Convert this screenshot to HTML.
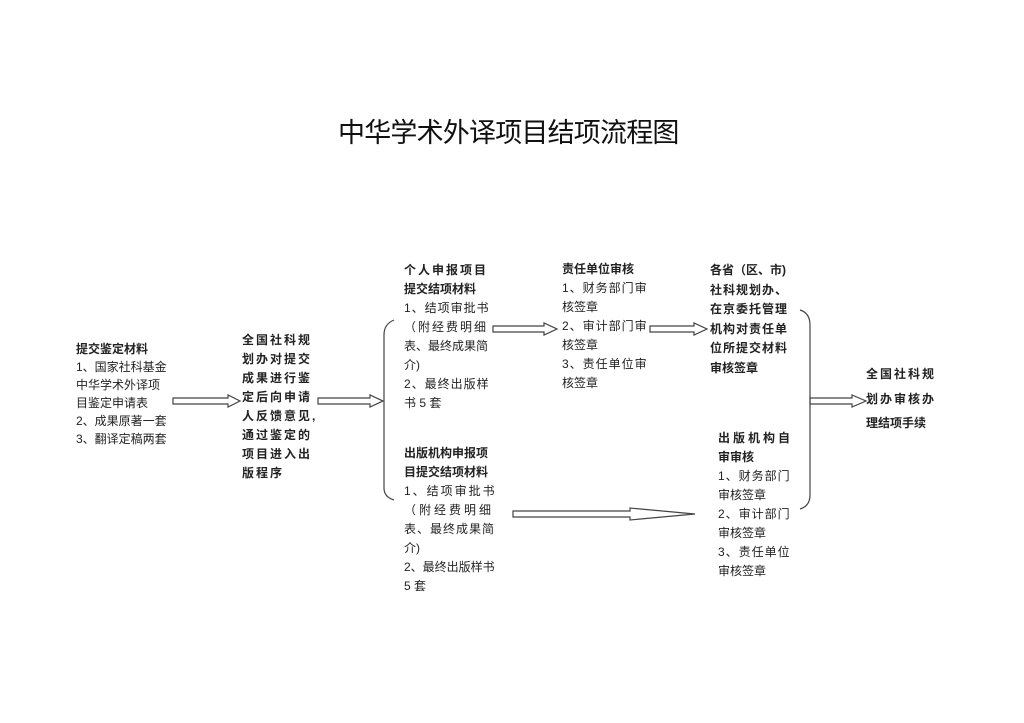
<!DOCTYPE html>
<html><head><meta charset="utf-8"><style>
body{margin:0;width:1024px;height:723px;background:#fff;position:relative;overflow:hidden;font-family:"Liberation Sans","Noto Sans CJK SC",sans-serif;color:#222}
.t{position:absolute;font-size:12px;white-space:nowrap}
.t div{height:19px;line-height:19px}
.b{font-weight:bold}
.title{position:absolute;left:338px;top:114px;font-size:27px;letter-spacing:-0.8px;line-height:34px;white-space:nowrap;font-family:"Noto Sans CJK SC",sans-serif;color:#111}
svg{position:absolute;left:0;top:0}
</style></head><body>
<div class="title">中华学术外译项目结项流程图</div>

<div class="t" style="left:76px;top:340px"><div style="height:18px;line-height:18px" class="b">提交鉴定材料</div><div style="height:18px;line-height:18px">1、国家社科基金</div><div style="height:18px;line-height:18px">中华学术外译项</div><div style="height:18px;line-height:18px">目鉴定申请表</div><div style="height:18px;line-height:18px">2、成果原著一套</div><div style="height:18px;line-height:18px">3、翻译定稿两套</div></div>

<div class="t b" style="left:242px;top:331px;letter-spacing:2px"><div>全国社科规</div><div>划办对提交</div><div>成果进行鉴</div><div>定后向申请</div><div>人反馈意见,</div><div>通过鉴定的</div><div>项目进入出</div><div>版程序</div></div>

<div class="t" style="left:404px;top:261px"><div class="b" style="letter-spacing:2px">个人申报项目</div><div class="b">提交结项材料</div><div style="letter-spacing:1px">1、结项审批书</div><div style="letter-spacing:2px">（附经费明细</div><div>表、最终成果简</div><div>介)</div><div style="letter-spacing:1px">2、最终出版样</div><div>书 5 套</div></div>

<div class="t" style="left:562px;top:260px"><div class="b">责任单位审核</div><div style="letter-spacing:1px">1、财务部门审</div><div>核签章</div><div style="letter-spacing:1px">2、审计部门审</div><div>核签章</div><div style="letter-spacing:1px">3、责任单位审</div><div>核签章</div></div>

<div class="t b" style="left:710px;top:261px"><div style="height:19.5px;line-height:19.5px">各省（区、市)</div><div style="height:19.5px;line-height:19.5px;letter-spacing:1px">社科规划办、</div><div style="height:19.5px;line-height:19.5px;letter-spacing:1px">在京委托管理</div><div style="height:19.5px;line-height:19.5px;letter-spacing:1px">机构对责任单</div><div style="height:19.5px;line-height:19.5px;letter-spacing:1px">位所提交材料</div><div style="height:19.5px;line-height:19.5px">审核签章</div></div>

<div class="t b" style="left:866px;top:362px;letter-spacing:2px"><div style="height:24.5px;line-height:24.5px">全国社科规</div><div style="height:24.5px;line-height:24.5px">划办审核办</div><div style="height:24.5px;line-height:24.5px;letter-spacing:0">理结项手续</div></div>

<div class="t" style="left:404px;top:444px"><div class="b">出版机构申报项</div><div class="b">目提交结项材料</div><div style="letter-spacing:2px">1、结项审批书</div><div style="letter-spacing:3px">（附经费明细</div><div style="letter-spacing:1px">表、最终成果简</div><div>介)</div><div>2、最终出版样书</div><div>5 套</div></div>

<div class="t" style="left:718px;top:429px"><div class="b" style="letter-spacing:3px">出版机构自</div><div class="b">审审核</div><div style="letter-spacing:1px">1、财务部门</div><div>审核签章</div><div style="letter-spacing:1px">2、审计部门</div><div>审核签章</div><div style="letter-spacing:1px">3、责任单位</div><div>审核签章</div></div>

<svg width="1024" height="723" fill="none" stroke="#444" stroke-width="1.2">
<g fill="#fff">
<polygon points="173,398 228,398 228,395 240,401 228,407 228,404 173,404"/>
<polygon points="318,398 370,398 370,395 383,401 370,407 370,404 318,404"/>
<polygon points="493,326 544,326 544,323 557,329 544,335 544,332 493,332"/>
<polygon points="650,326 694,326 694,323 707,329 694,335 694,332 650,332"/>
<polygon points="513,511 630,511 630,508 695,514 630,520 630,517 513,517"/>
<polygon points="810,398 852,398 852,395 866,401 852,407 852,404 810,404"/>
</g>
<path d="M394,320 Q384,324 384,335 L384,488 Q384,497 394,500"/>
<path d="M800,310 Q810,313 810,325 L810,495 Q810,506 800,509"/>
</svg>
</body></html>
